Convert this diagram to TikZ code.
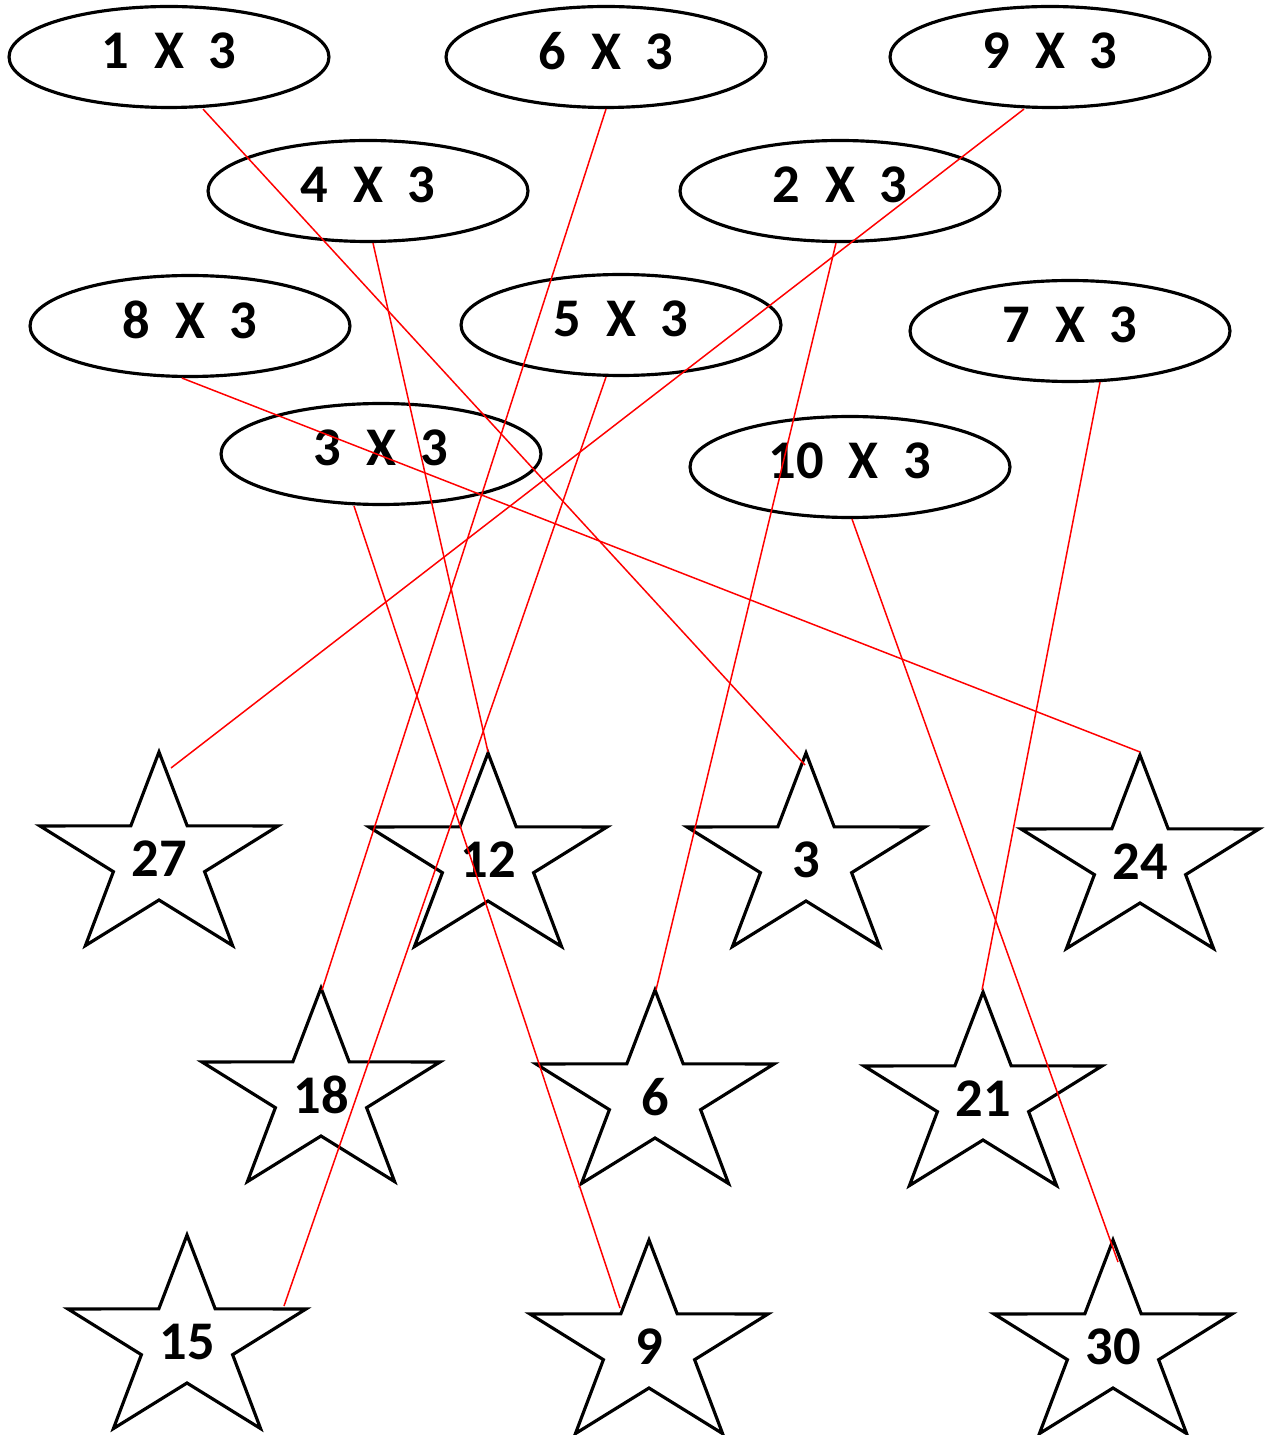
\documentclass[tikz,border=0pt]{standalone}
\usepackage{fontspec}
\setmainfont{Carlito}
\usetikzlibrary{shapes.geometric}

\tikzset{
  mult/.style={draw, ellipse, line width=1.8pt, minimum width=6.4cm, minimum height=2.02cm,
    text depth=0.24cm, font=\bfseries\fontsize{31}{37}\selectfont},
  num/.style={inner sep=0pt, font=\bfseries\fontsize{31}{37}\selectfont},
  link/.style={red, line width=0.85pt},
  starshape/.pic={
    \draw[line width=1.8pt, miter limit=10, xscale=1.17]
      (90:2.14cm) -- (126:0.82cm) -- (162:2.14cm) -- (198:0.82cm) -- (234:2.14cm)
      -- (270:0.82cm) -- (306:2.14cm) -- (342:0.82cm) -- (18:2.14cm) -- (54:0.82cm) -- cycle;
  }
}

\begin{document}
\begin{tikzpicture}[x=0.02cm, y=-0.02cm]
  \useasboundingbox (0,0) rectangle (1268,1435);

  % the times-three questions
  \foreach \a/\px/\py in {1/169/57, 6/606/57, 9/1050/57, 4/368/191, 2/840/191,
                          8/190/326, 5/621/325, 7/1070/331, 3/381/454, 10/850/467}
    \node[mult] (m\a) at (\px,\py) {\a\ \ X\ \ 3};

  % the answers
  \foreach \v/\px/\py in {27/159/859, 12/488/860, 3/806/860, 24/1140/862,
                          18/321/1095, 6/655/1097, 21/983/1099,
                          15/187/1342, 9/649/1347, 30/1113/1347} {
    \pic at (\px,\py) {starshape};
    \node[num] (s\v) at (\px,\py) {\v};
  }

  \path[link]
    ([shift={(34,0)}]m1.south) edge ([shift={(-1,-95)}]s3.center)
    (m6.south) edge ([shift={(1,-105)}]s18.center)
    ([shift={(-26,0)}]m9.south) edge ([shift={(12,-91)}]s27.center)
    ([shift={(5,0)}]m4.south) edge ([shift={(0,-108)}]s12.center)
    ([shift={(-4,0)}]m2.south) edge ([shift={(1,-107)}]s6.center)
    ([shift={(-8,0)}]m8.south) edge ([shift={(0,-110)}]s24.center)
    ([shift={(-15,0)}]m5.south) edge ([shift={(97,-36)}]s15.center)
    ([shift={(30,-1)}]m7.south) edge ([shift={(-1,-109)}]s21.center)
    ([shift={(-27,0)}]m3.south) edge ([shift={(-29,-39)}]s9.center)
    ([shift={(2,0)}]m10.south) edge ([shift={(5,-85)}]s30.center);

\end{tikzpicture}
\end{document}
